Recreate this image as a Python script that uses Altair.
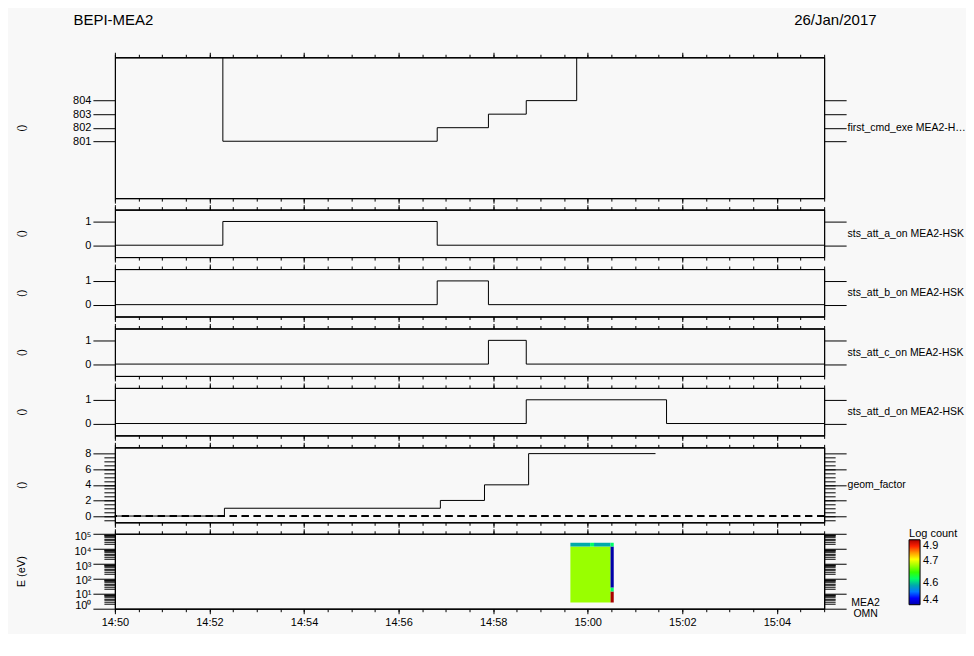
import altair as alt
import pandas as pd

FONT = "Liberation Sans"
DAY = "2017-01-26"

# ---- panel 1: first_cmd_exe (values above the axis range run off the top)
cmd_times = ["14:52:17", "14:52:17", "14:56:49", "14:57:54", "14:58:42", "14:59:46"]
cmd_values = [810, 801, 802, 803, 804, 810]

# ---- panels 2-5: attenuator states
att_a_times = ["14:50:00", "14:52:17", "14:56:49", "15:05:00"]
att_a_values = [0, 1, 0, 0]
att_b_times = ["14:50:00", "14:56:49", "14:57:54", "15:05:00"]
att_b_values = [0, 1, 0, 0]
att_c_times = ["14:50:00", "14:57:54", "14:58:42", "15:05:00"]
att_c_values = [0, 1, 0, 0]
att_d_times = ["14:50:00", "14:58:42", "15:01:40", "15:05:00"]
att_d_values = [0, 1, 0, 0]

# ---- panel 6: geom_factor
geom_times = ["14:50:00", "14:52:19", "14:56:53", "14:57:49", "14:58:45", "15:01:26"]
geom_values = [0, 1, 2, 4, 8, 8]

# ---- panel 7: energy spectrogram (log count), cells of equal value merged
spec_t0 = ["14:59:38", "14:59:38", "15:00:03", "15:00:08",
           "15:00:29", "15:00:29", "15:00:29", "15:00:29"]
spec_t1 = ["15:00:29", "15:00:03", "15:00:08", "15:00:29",
           "15:00:33", "15:00:33", "15:00:33", "15:00:33"]
spec_e0 = [2.6, 14200, 14200, 14200, 2.6, 14.2, 26, 14200]
spec_e1 = [14200, 25000, 25000, 25000, 14.2, 26, 14200, 25000]
spec_logc = [4.70, 4.55, 4.60, 4.55, 4.90, 4.60, 4.40, 4.60]

color_stops = [4.40, 4.45, 4.50, 4.55, 4.60, 4.65, 4.70, 4.75, 4.80, 4.85, 4.90]
color_hex = ["#0000AA", "#0000FF", "#0077FF", "#00AAAA", "#00FF66", "#33FF00",
             "#99FF00", "#FFFF00", "#FF9900", "#FF2200", "#AA0000"]
legend_vals = [4.4, 4.5667, 4.7333, 4.9]


def iso(hms):
    return f"{DAY}T{hms}Z"


def dt_from_seconds(total):
    return alt.DateTime(year=2017, month=1, date=26, hours=total // 3600,
                        minutes=(total % 3600) // 60, seconds=total % 60, utc=True)


start_s = 14 * 3600 + 50 * 60
minor_x = [dt_from_seconds(start_s + 30 * i) for i in range(31)]
major_x = [dt_from_seconds(start_s + 120 * i) for i in range(8)]
x_scale = alt.Scale(type="utc", domain=[dt_from_seconds(start_s), dt_from_seconds(start_s + 900)])


def xax(orient, values, size, labels=False, **kw):
    return alt.Axis(orient=orient, values=values, tickSize=size, labels=labels,
                    grid=False, format="%H:%M", labelPadding=3, labelFlush=False, **kw)


def yax(orient, values, size, labels=False, **kw):
    return alt.Axis(orient=orient, values=values, tickSize=size, labels=labels, grid=False,
                    labelOverlap=False, **kw)


def line_df(times, values):
    return pd.DataFrame({"t": [iso(t) for t in times], "v": values})


def line_panel(df, y_scale, height, major_y, minor_y, left_title, right_title, top_titles=False,
               extra=None):
    mid = height / 2
    left_major = yax("left", major_y, 22, labels=True, title=left_title, titleAngle=270,
                     titleX=-93, titleY=mid, titleAlign="center", titleBaseline="middle")
    right_major = yax("right", major_y, 22, title=right_title, titleAngle=0, titleX=23,
                      titleY=mid, titleAlign="left", titleBaseline="middle",
                      titleLimit=121, titleFontSize=10.5)
    if top_titles:
        top_minor = xax("top", minor_x, 3, title="BEPI-MEA2", titleX=-42, titleY=-45,
                        titleAlign="left", titleBaseline="top", titleAngle=0, titleFontSize=15)
        top_major = xax("top", major_x, 5, title="26/Jan/2017", titleX=762, titleY=-45,
                        titleAlign="right", titleBaseline="top", titleAngle=0, titleFontSize=15)
    else:
        top_minor = xax("top", minor_x, 3, title=None)
        top_major = xax("top", major_x, 5, title=None)
    pairs = [
        (xax("bottom", minor_x, 3, title=None), left_major),
        (xax("bottom", major_x, 5, title=None), right_major),
        (top_minor, yax("left", minor_y, 11, title=None) if minor_y else None),
        (top_major, yax("right", minor_y, 11, title=None) if minor_y else None),
    ]
    layers = []
    for i, (xa, ya) in enumerate(pairs):
        mk = alt.Chart(df).mark_line(interpolate="step-after", color="black", strokeWidth=1,
                                     clip=True, opacity=1 if i == 0 else 0)
        layers.append(mk.encode(x=alt.X("t:T", scale=x_scale, axis=xa),
                                y=alt.Y("v:Q", scale=y_scale, axis=ya)))
    if extra is not None:
        layers.insert(0, extra)
    return alt.layer(*layers).resolve_axis(x="independent", y="independent").properties(
        width=710, height=height)


y_att = alt.Scale(domain=[-0.5, 1.5], nice=False, zero=False)
H_ATT = 47.5

p1 = line_panel(line_df(cmd_times, cmd_values),
                alt.Scale(domain=[796.8, 807.2], nice=False, zero=False), 141,
                [801, 802, 803, 804], None, "()", "first_cmd_exe MEA2-HSK", top_titles=True)
p2 = line_panel(line_df(att_a_times, att_a_values), y_att, H_ATT, [0, 1], None, "()",
                "sts_att_a_on MEA2-HSK")
p3 = line_panel(line_df(att_b_times, att_b_values), y_att, H_ATT, [0, 1], None, "()",
                "sts_att_b_on MEA2-HSK")
p4 = line_panel(line_df(att_c_times, att_c_values), y_att, H_ATT, [0, 1], None, "()",
                "sts_att_c_on MEA2-HSK")
p5 = line_panel(line_df(att_d_times, att_d_values), y_att, H_ATT, [0, 1], None, "()",
                "sts_att_d_on MEA2-HSK")

geom_df = line_df(geom_times, geom_values)
y_geom = alt.Scale(domain=[-0.8, 8.8], nice=False, zero=False)
zero_rule = alt.Chart(geom_df).mark_rule(color="black", strokeWidth=1, strokeDash=[7, 5]).encode(
    y=alt.YDatum(0, scale=y_geom, axis=None))
p6 = line_panel(geom_df, y_geom, 75, [0, 2, 4, 6, 8],
                [-0.5 + 0.5 * i for i in range(17)], "()", "geom_factor", extra=zero_rule)

# ---- spectrogram panel
spec_df = pd.DataFrame({
    "t0": [iso(t) for t in spec_t0], "t1": [iso(t) for t in spec_t1],
    "e0": spec_e0, "e1": spec_e1, "logc": spec_logc,
})
decades = [1, 10, 100, 1000, 10000, 100000]
minor_e = [k * d for d in decades[:-1] for k in range(2, 10)]
y_spec = alt.Scale(type="log", domain=[1, 100000], nice=False)
sup_expr = "'10' + ['⁰','¹','²','³','⁴','⁵'][round(log(datum.value)/LN10)]"
log_label_offset = {"condition": [{"test": "datum.value >= 1000", "value": 3},
                                  {"test": "datum.value >= 100", "value": 2},
                                  {"test": "datum.value >= 10", "value": 1}],
                    "value": -3}
H7 = 75
spec_pairs = [
    (xax("bottom", minor_x, 3, title=None),
     yax("left", decades, 22, labels=True, labelExpr=sup_expr, labelOffset=log_label_offset,
         title="E (eV)", titleAngle=270, titleX=-93, titleY=H7 / 2, titleAlign="center",
         titleBaseline="middle")),
    (xax("bottom", major_x, 5, labels=True, title=None),
     yax("right", decades, 22, title=["MEA2", "OMN"], titleAngle=0, titleX=41, titleY=64,
         titleAlign="center", titleBaseline="top", titleLineHeight=11, titleFontSize=10.5)),
    (xax("top", minor_x, 3, title=None), yax("left", minor_e, 11, title=None)),
    (xax("top", major_x, 5, title=None), yax("right", minor_e, 11, title=None)),
]
color_scale = alt.Scale(domain=color_stops, range=color_hex)
spec_layers = []
for i, (xa, ya) in enumerate(spec_pairs):
    enc = dict(x=alt.X("t0:T", scale=x_scale, axis=xa), x2="t1",
               y=alt.Y("e0:Q", scale=y_spec, axis=ya), y2="e1")
    if i == 0:
        enc["color"] = alt.Color(
            "logc:Q", scale=color_scale,
            legend=alt.Legend(orient="none", legendX=795, legendY=471, direction="vertical",
                              title="Log count", gradientLength=65, gradientThickness=11,
                              gradientStrokeColor="black", gradientStrokeWidth=1,
                              values=legend_vals, labelExpr="format(datum.value, '.1f')",
                              titleFont=FONT, titleFontSize=11, titleFontWeight="normal",
                              titleColor="black", labelFont=FONT, labelFontSize=11,
                              labelColor="black", titlePadding=1, labelOffset=3))
        spec_layers.append(alt.Chart(spec_df).mark_rect(clip=True).encode(**enc))
    else:
        spec_layers.append(alt.Chart(spec_df).mark_rect(opacity=0, clip=True).encode(**enc))
p7 = alt.layer(*spec_layers).resolve_axis(x="independent", y="independent").properties(
    width=710, height=H7)

chart = alt.vconcat(p1, p2, p3, p4, p5, p6, p7, spacing=11.5, bounds="flush").properties(
    background="#f8f8f8",
    padding={"left": 7, "top": 3, "right": 0, "bottom": 5},
).configure_axis(
    labelFont=FONT, labelFontSize=11, labelColor="black", titleFont=FONT, titleFontSize=11,
    titleFontWeight="normal", titleColor="black", tickColor="black", domainColor="black",
    tickWidth=1, domainWidth=1,
).configure_view(stroke="black", strokeWidth=1)

chart.save("out.html", embed_options={"renderer": "svg", "actions": False})
